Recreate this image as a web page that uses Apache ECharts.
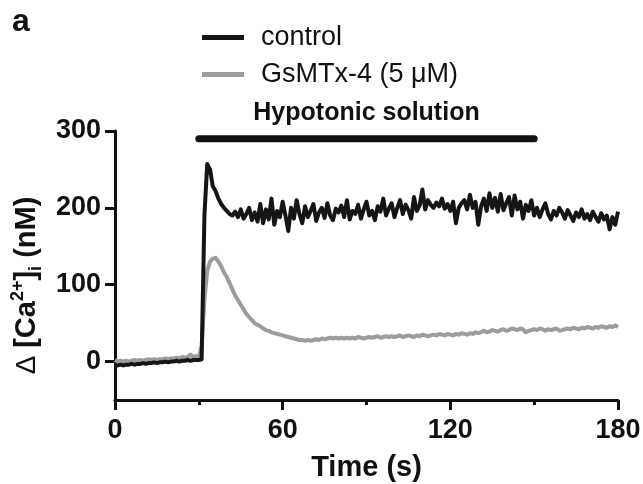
<!DOCTYPE html>
<html>
<head>
<meta charset="utf-8">
<script src="https://cdn.jsdelivr.net/npm/echarts@6.0.0/dist/echarts.min.js"></script>
<style>
    html, body {margin: 0; padding: 0; background: #fff;}
    #main {width: 643px; height: 484px;}
</style>
</head>
<body>
<div id="main"></div>
<script>
// one sample per second, t = 0 .. 180 s
let controlValues = [
    -5, -5, -4, -5, -4, -4, -3, -4, -3, -3, -2, -3, -2, -2, -1, -2, -1, -1, 0, -1,
    0, 0, 1, 0, 1, 1, 2, 1, 2, 2, 2, 3, 190, 257, 250, 228, 222, 212, 205, 200,
    196, 192, 190, 195, 188, 198, 186, 192, 200, 184, 194, 182, 205, 180, 198, 185, 212, 178, 196, 188,
    208, 190, 170, 200, 186, 210, 192, 180, 202, 188, 196, 205, 183, 194, 200, 187, 206, 190, 184, 199,
    194, 203, 188, 210, 185, 196, 192, 204, 186, 198, 208, 190, 196, 184, 202, 195, 212, 190, 199, 206,
    188, 200, 210, 192, 204, 197, 186, 214, 196, 203, 224, 198, 210, 204, 200, 207, 202, 212, 199, 205,
    196, 208, 180, 200, 206, 210, 198, 217, 200, 208, 178, 202, 212, 196, 219, 200, 213, 195, 218, 197,
    206, 214, 190, 216, 198, 208, 186, 204, 196, 210, 190, 200, 188, 198, 206, 192, 185, 196, 190, 200,
    194, 186, 197, 190, 183, 194, 188, 198, 186, 192, 184, 195, 188, 182, 193, 185, 190, 172, 188, 178,
    195
];
let gsmtxValues = [
    2, 0, 1, 0, 1, 0, 1, 2, 1, 2, 1, 2, 3, 2, 3, 2, 3, 3, 4, 3,
    4, 4, 5, 4, 6, 5, 6, 9, 6, 7, 6, 20, 80, 118, 130, 134, 135, 130, 124, 116,
    110, 102, 94, 86, 80, 74, 68, 62, 58, 54, 50, 48, 46, 43, 41, 40, 38, 37, 36, 35,
    34, 33, 32, 31, 30, 29, 28, 28, 27, 28, 27, 28, 29, 28, 30, 29, 30, 31, 30, 31,
    30, 31, 30, 31, 30, 31, 30, 32, 31, 30, 31, 32, 31, 32, 33, 31, 32, 33, 32, 33,
    32, 33, 34, 32, 33, 34, 33, 32, 34, 33, 35, 34, 33, 34, 35, 34, 36, 35, 34, 36,
    35, 34, 36, 35, 37, 36, 35, 37, 36, 38, 37, 38, 40, 38, 39, 41, 40, 39, 41, 42,
    40, 41, 43, 42, 41, 43, 42, 38, 40, 41, 42, 41, 43, 42, 40, 42, 41, 42, 43, 40,
    41, 42, 43, 42, 44, 43, 42, 44, 43, 45, 44, 43, 45, 44, 46, 45, 44, 46, 45, 47,
    45
];
let hypotonicTimes = [30, 150];
let hypotonicLevel = 290;
let xTicks = [0, 60, 120, 180];
let yTicks = [0, 100, 200, 300];

let fontName = '"Liberation Sans", Arial, sans-serif';

let controlData = controlValues.map(function (v, i) { return [i, v]; });
let gsmtxData = gsmtxValues.map(function (v, i) { return [i, v]; });
let hypotonicData = hypotonicTimes.map(function (t) { return [t, hypotonicLevel]; });

let chart = echarts.init(document.getElementById('main'), null, {renderer: 'canvas'});

let option = {
    animation: false,
    backgroundColor: '#fff',
    grid: {left: 115, right: 25, top: 131, bottom: 84, containLabel: false, outerBoundsMode: 'none'},
    legend: {
        data: ['control', 'GsMTx-4 (5 μM)'],
        orient: 'vertical',
        left: 197,
        top: 19,
        icon: 'rect',
        itemWidth: 42,
        itemHeight: 5,
        itemGap: 10,
        textStyle: {fontSize: 27, fontFamily: fontName, color: '#111', padding: [0, 0, 0, 12]}
    },
    xAxis: {
        type: 'value',
        min: 0,
        max: 180,
        interval: 60,
        axisLine: {onZero: false, lineStyle: {color: '#111', width: 3}},
        axisTick: {length: 10, lineStyle: {width: 3, color: '#111'}},
        minorTick: {show: true, splitNumber: 2, length: 5, lineStyle: {width: 3, color: '#111'}},
        splitLine: {show: false},
        axisLabel: {
            margin: 17, fontSize: 27, fontWeight: 'bold', fontFamily: fontName, color: '#111',
            showMinLabel: true, showMaxLabel: true, customValues: xTicks
        },
        name: 'Time (s)',
        nameLocation: 'middle',
        nameGap: 53,
        nameTextStyle: {fontSize: 29, fontWeight: 'bold', fontFamily: fontName, color: '#111'}
    },
    yAxis: {
        type: 'value',
        min: -50,
        max: 300,
        axisLine: {show: true, lineStyle: {color: '#111', width: 3}},
        axisTick: {show: true, length: 10, customValues: yTicks, lineStyle: {width: 3, color: '#111'}},
        splitLine: {show: false},
        axisLabel: {
            margin: 14, fontSize: 27, fontWeight: 'bold', fontFamily: fontName, color: '#111',
            customValues: yTicks
        },
        name: '{d|Δ }{b|[Ca}{sup|2+}{b|]}{sub|i}{b| (nM)}',
        nameLocation: 'middle',
        nameRotate: 90,
        nameGap: 55,
        nameTextStyle: {
            color: '#111',
            padding: [0, 40, 0, 0],
            rich: {
                d: {fontSize: 28, fontFamily: fontName, color: '#111', lineHeight: 36},
                b: {fontSize: 29, fontWeight: 'bold', fontFamily: fontName, color: '#111', lineHeight: 36},
                sup: {fontSize: 18, fontWeight: 'bold', fontFamily: fontName, color: '#111', verticalAlign: 'top', lineHeight: 36},
                sub: {fontSize: 18, fontWeight: 'bold', fontFamily: fontName, color: '#111', verticalAlign: 'bottom', lineHeight: 36}
            }
        }
    },
    series: [
        {
            name: 'GsMTx-4 (5 μM)',
            type: 'line',
            data: gsmtxData,
            symbol: 'none',
            color: '#9c9c9c',
            lineStyle: {width: 4, color: '#9c9c9c', join: 'round'}
        },
        {
            name: 'control',
            type: 'line',
            data: controlData,
            symbol: 'none',
            color: '#151515',
            lineStyle: {width: 4, color: '#151515', join: 'round'}
        },
        {
            name: 'hypotonic',
            type: 'line',
            data: hypotonicData,
            symbol: 'none',
            silent: true,
            lineStyle: {width: 7, color: '#111', cap: 'round'}
        }
    ]
};

chart.setOption(option);

// label above the hypotonic bar, centred on it
let midPoint = chart.convertToPixel({gridIndex: 0}, [(hypotonicTimes[0] + hypotonicTimes[1]) / 2, hypotonicLevel]);

chart.setOption({
    graphic: [
        {
            type: 'text',
            left: 12,
            top: 6,
            style: {text: 'a', fontSize: 32, fontWeight: 'bold', fontFamily: fontName, fill: '#111'}
        },
        {
            type: 'text',
            x: midPoint[0],
            y: midPoint[1] - 13,
            style: {
                text: 'Hypotonic solution', fontSize: 25, fontWeight: 'bold', fontFamily: fontName, fill: '#111',
                align: 'center', verticalAlign: 'bottom'
            }
        }
    ]
});
</script>
</body>
</html>
